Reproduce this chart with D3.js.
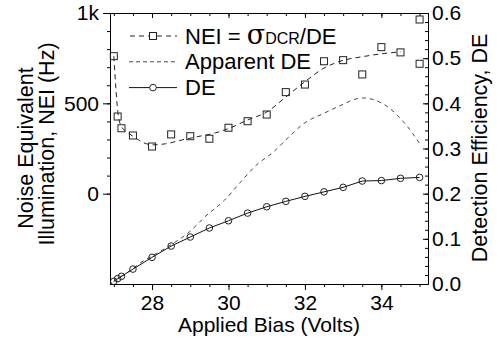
<!DOCTYPE html>
<html>
<head>
<meta charset="utf-8">
<script src="https://cdn.jsdelivr.net/npm/d3@7"></script>
<style>
body { margin: 0; background: #fff; }
svg { display: block; }
text { font-family: "Liberation Sans", Arial, sans-serif; fill: #000; }
.axis path, .axis line { stroke: #000; stroke-width: 1; }
.axis text { font-size: 21px; }
.legend text { font-size: 22px; }
</style>
</head>
<body>
<div id="chart"></div>
<script>
// measured points
var bias = [27.0, 27.1, 27.2, 27.5, 28, 28.5, 29, 29.5, 30, 30.5, 31, 31.5, 32, 32.5, 33, 33.5, 34, 34.5, 35];
var de = [0.006, 0.012, 0.017, 0.033, 0.059, 0.084, 0.104, 0.124, 0.140, 0.157, 0.171, 0.183, 0.194, 0.204, 0.214, 0.228, 0.229, 0.234, 0.236];

var neiBias = [27.0, 27.1, 27.2, 27.5, 28, 28.5, 29, 29.5, 30, 30.5, 31, 31.5, 32, 32.5, 33, 33.5, 34, 34.5, 35, 35];
var nei = [761, 427, 362, 322, 261, 328, 318, 304, 365, 401, 438, 562, 604, 733, 739, 660, 811, 782, 964, 719];

// fitted NEI curve
var fitBias = [27.0, 27.12, 27.2, 27.35, 27.5, 27.75, 28.0, 28.35, 28.8, 29.2, 29.65, 30.1, 30.5, 31.0, 31.5, 32.0, 32.5, 33.0, 33.5, 34.0, 34.5];
var fitNei = [761, 429, 372, 340, 318, 285, 270, 276, 298, 316, 336, 369, 408, 452, 535, 620, 695, 738, 758, 774, 785];

// apparent DE curve
var appBias = [27.0, 27.2, 27.5, 27.7, 28.0, 28.5, 29.0, 29.4, 29.9, 30.3, 30.7, 31.2, 31.5, 32.0, 32.5, 32.9, 33.5, 34.0, 34.6, 35.05];
var appDe = [0.006, 0.017, 0.034, 0.047, 0.062, 0.087, 0.117, 0.150, 0.186, 0.224, 0.261, 0.294, 0.319, 0.357, 0.378, 0.394, 0.412, 0.401, 0.357, 0.305];

var xMajor = [28, 30, 32, 34];
var leftMajor = [0, 500, 1000];
var legendLabels = ["NEI", "Apparent DE", "DE"];

var width = 497, height = 345;
var margin = {top: 13, right: 69, bottom: 61, left: 110};
var w = width - margin.left - margin.right;
var h = height - margin.top - margin.bottom;

var svg = d3.select("#chart").append("svg")
    .attr("width", width)
    .attr("height", height);

var g = svg.append("g")
    .attr("transform", "translate(" + margin.left + "," + margin.top + ")");

var x = d3.scaleLinear().domain([26.9, 35.22]).range([0, w]);
var yL = d3.scaleLinear().domain([-500, 1000]).range([h, 0]);
var yR = d3.scaleLinear().domain([0, 0.6]).range([h, 0]);

// axes: bottom
g.append("g").attr("class", "axis")
    .attr("transform", "translate(0," + h + ")")
    .call(d3.axisBottom(x).tickValues(d3.range(27, 35.01, 0.5)).tickSize(3).tickSizeOuter(0).tickFormat(""));
g.append("g").attr("class", "axis")
    .attr("transform", "translate(0," + h + ")")
    .call(d3.axisBottom(x).tickValues(xMajor).tickSize(6).tickSizeOuter(0).tickPadding(5).tickFormat(d3.format("d")));

// top
g.append("g").attr("class", "axis")
    .call(d3.axisTop(x).tickValues(d3.range(27, 35.01, 0.5)).tickSize(-3).tickSizeOuter(0).tickFormat(""));
g.append("g").attr("class", "axis")
    .call(d3.axisTop(x).tickValues(xMajor).tickSize(-5).tickSizeOuter(0).tickFormat(""));

// left
g.append("g").attr("class", "axis")
    .call(d3.axisLeft(yL).tickValues(d3.range(0, 1001, 100)).tickSize(3).tickSizeOuter(0).tickFormat(""));
g.append("g").attr("class", "axis")
    .call(d3.axisLeft(yL).tickValues(leftMajor).tickSize(7).tickSizeOuter(0).tickPadding(4)
      .tickFormat(function(d) { return d === 1000 ? "1k" : d; }));

// right
g.append("g").attr("class", "axis")
    .attr("transform", "translate(" + w + ",0)")
    .call(d3.axisRight(yR).tickValues(d3.range(0, 0.6001, 0.02)).tickSize(-3).tickSizeOuter(0).tickFormat(""));
g.append("g").attr("class", "axis")
    .attr("transform", "translate(" + w + ",0)")
    .call(d3.axisRight(yR).tickValues(d3.range(0, 0.6001, 0.1)).tickSize(-5).tickSizeOuter(0).tickPadding(4)
      .tickFormat(d3.format(".1f")));

// axis titles
svg.append("text")
    .attr("x", margin.left + w / 2).attr("y", 332)
    .attr("text-anchor", "middle").style("font-size", "21px")
    .text("Applied Bias (Volts)");

svg.append("text")
    .attr("transform", "translate(33,148) rotate(-90)")
    .attr("text-anchor", "middle").style("font-size", "21.5px")
    .text("Noise Equivalent");
svg.append("text")
    .attr("transform", "translate(54,144) rotate(-90)")
    .attr("text-anchor", "middle").style("font-size", "21.5px")
    .text("Illumination, NEI (Hz)");

svg.append("text")
    .attr("transform", "translate(487,148) rotate(-90)")
    .attr("text-anchor", "middle").style("font-size", "21.5px")
    .text("Detection Efficiency, DE");

// series
var fitLine = d3.line()
    .x(function(d, i) { return x(fitBias[i]); })
    .y(function(d) { return yL(d); })
    .curve(d3.curveMonotoneX);
g.append("path")
    .datum(fitNei)
    .attr("d", fitLine)
    .attr("fill", "none").attr("stroke", "#222").attr("stroke-width", 1)
    .attr("stroke-dasharray", "5,4");

var appLine = d3.line()
    .x(function(d, i) { return x(appBias[i]); })
    .y(function(d) { return yR(d); })
    .curve(d3.curveMonotoneX);
g.append("path")
    .datum(appDe)
    .attr("d", appLine)
    .attr("fill", "none").attr("stroke", "#333").attr("stroke-width", 0.9)
    .attr("stroke-dasharray", "4,4");

var deLine = d3.line()
    .x(function(d, i) { return x(bias[i]); })
    .y(function(d) { return yR(d); });
g.append("path")
    .datum(de)
    .attr("d", deLine)
    .attr("fill", "none").attr("stroke", "#111").attr("stroke-width", 1);

g.selectAll("circle.de")
    .data(de)
  .enter().append("circle")
    .attr("class", "de")
    .attr("cx", function(d, i) { return x(bias[i]); })
    .attr("cy", function(d) { return yR(d); })
    .attr("r", 3.3)
    .attr("fill", "none").attr("stroke", "#222").attr("stroke-width", 1);

g.selectAll("rect.nei")
    .data(nei)
  .enter().append("rect")
    .attr("class", "nei")
    .attr("x", function(d, i) { return x(neiBias[i]) - 3.5; })
    .attr("y", function(d) { return yL(d) - 3.5; })
    .attr("width", 7).attr("height", 7)
    .attr("fill", "none").attr("stroke", "#222").attr("stroke-width", 1);

// legend
var legend = svg.append("g").attr("class", "legend").attr("transform", "translate(129,36)");
var rowH = 25.8;

legend.append("line")
    .attr("x1", 0).attr("x2", 48).attr("y1", 0).attr("y2", 0)
    .attr("stroke", "#222").attr("stroke-dasharray", "5,4").attr("stroke-dashoffset", -1);
legend.append("rect")
    .attr("x", 20.5).attr("y", -3.5).attr("width", 7).attr("height", 7)
    .attr("fill", "#fff").attr("stroke", "#222");

legend.append("line")
    .attr("x1", 0).attr("x2", 48).attr("y1", rowH).attr("y2", rowH)
    .attr("stroke", "#333").attr("stroke-width", 0.9).attr("stroke-dasharray", "4,3");

legend.append("line")
    .attr("x1", 0).attr("x2", 48).attr("y1", 2 * rowH).attr("y2", 2 * rowH)
    .attr("stroke", "#111");
legend.append("circle")
    .attr("cx", 24).attr("cy", 2 * rowH).attr("r", 3.3)
    .attr("fill", "#fff").attr("stroke", "#222");

var t1 = legend.append("text").attr("x", 56).attr("y", 7.5);
t1.append("tspan").text(legendLabels[0] + " = ");
t1.append("tspan").style("font-size", "27px").style("font-family", "'DejaVu Serif', serif").text("\u03c3");
t1.append("tspan").style("font-size", "16px").text("DCR");
t1.append("tspan").text("/DE");

legend.append("text").attr("x", 56).attr("y", rowH + 7.5).text(legendLabels[1]);
legend.append("text").attr("x", 56).attr("y", 2 * rowH + 7.5).text(legendLabels[2]);
</script>
</body>
</html>
